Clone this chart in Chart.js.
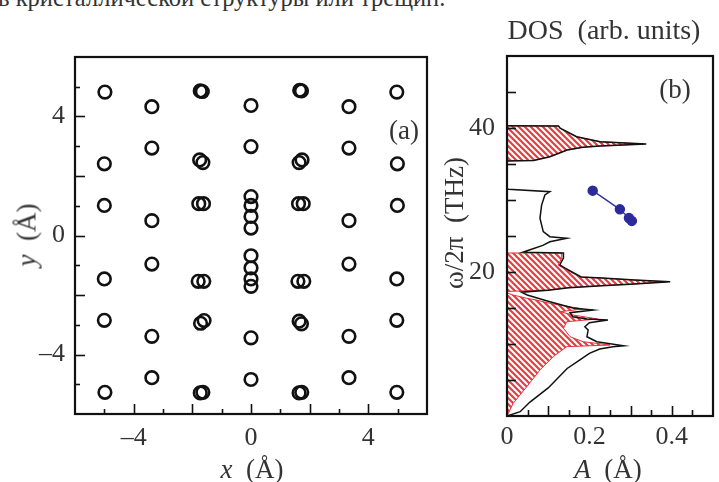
<!DOCTYPE html>
<html><head><meta charset="utf-8">
<script src="https://cdn.jsdelivr.net/npm/chart.js@4.4.1/dist/chart.umd.min.js"></script>
<style>
html,body{margin:0;padding:0;background:#fff;width:719px;height:482px;overflow:hidden;position:relative;font-family:"Liberation Serif",serif;color:#333;}
canvas{position:absolute;}
#ca{left:0;top:0;}
#cb{left:440px;top:0;}
.t{position:absolute;white-space:nowrap;font-size:27px;line-height:1;}
.c{transform:translate(-50%,-50%);}
.r{transform:translate(-50%,-50%) rotate(-90deg);}
</style></head><body>
<div class="t" style="left:-2px;top:-14px;font-size:24.5px;line-height:24px;">в кристаллической структуры или трещин.</div>
<canvas id="ca" width="440" height="482" style="width:440px;height:482px"></canvas>
<canvas id="cb" width="279" height="482" style="width:279px;height:482px"></canvas>
<div class="t c" style="left:604px;top:30px;font-size:28px;">DOS&nbsp; (arb. units)</div>
<div class="t c" style="left:252px;top:469px;"><i>x</i>&nbsp; (Å)</div>
<div class="t r" style="left:27px;top:235px;"><i>y</i>&nbsp; (Å)</div>
<div class="t c" style="left:608px;top:469px;"><i>A</i>&nbsp; (Å)</div>
<div class="t r" style="left:454px;top:223px;">ω/2π&nbsp; (THz)</div>
<div class="t c" style="left:404px;top:130px;">(a)</div>
<div class="t c" style="left:675px;top:89px;">(b)</div>
<script>
// ---------- panel (a): atom positions ----------
const atomX = [-4.98,-1.73,-1.66,1.66,1.72,4.97,
  -3.38,0,3.34,
  -3.38,0,3.34,
  -5.0,-1.75,-1.64,1.64,1.74,4.99,
  -5.0,-1.78,-1.62,1.62,1.78,4.99,
  0,0,0,0,
  -3.38,3.34,
  0,0,0,0,
  -3.38,3.34,
  -5.0,-1.8,-1.61,1.6,1.8,4.97,
  -5.0,-1.72,-1.6,1.64,1.72,4.97,
  -3.38,0,3.34,
  -3.38,0,3.34,
  -4.98,-1.73,-1.64,1.64,1.73,4.97];
const atomY = [4.82,4.86,4.84,4.88,4.86,4.82,
  4.33,4.37,4.33,
  2.94,2.99,2.94,
  2.41,2.54,2.45,2.45,2.54,2.41,
  1.01,1.07,1.07,1.07,1.07,1.01,
  1.31,1.01,0.64,0.25,
  0.5,0.5,
  -0.68,-1.09,-1.46,-1.71,
  -0.96,-0.96,
  -1.46,-1.54,-1.54,-1.54,-1.54,-1.46,
  -2.85,-2.95,-2.86,-2.88,-2.97,-2.85,
  -3.39,-3.44,-3.39,
  -4.78,-4.84,-4.78,
  -5.27,-5.29,-5.27,-5.29,-5.27,-5.27];
const xTicksA = [-4, 0, 4];
const yTicksA = [-4, 0, 4];

// ---------- panel (b): DOS and amplitudes ----------
const totalDos  = [0,0.032,0.055,0.1,0.146,0.177,0.2,0.225,0.257,0.283,0.218,0.194,0.197,0.189,0.2,0.245,0.194,0.16,0.153,0.209,0.16,0.104,0.049,0.035,
  0.1,0.15,0.23,0.31,0.396,0.31,0.23,0.18,0.14,0.128,0.137,0.137,
  0.039,0.056,0.087,0.104,0.145,0.104,0.088,0.08,0.084,0.092,0.104,0.003,0,
  0,0.065,0.104,0.146,0.184,0.226,0.338,0.226,0.169,0.129,0.125,0];
const totalFreq = [0,0.6,1.9,3.9,6.6,7.8,8.7,9.3,9.63,9.75,10.32,11.01,11.94,12.4,12.96,13.33,13.47,13.79,14.35,14.72,15.0,15.88,16.8,17.2,
  17.45,17.82,18.1,18.33,18.65,18.89,19.17,19.31,20.56,20.97,21.94,22.64,
  22.75,23.1,23.7,24.2,24.68,24.9,25.6,27.46,29.3,30.7,31.15,31.5,31.6,
  35.4,35.5,36.0,36.94,37.32,37.5,37.78,38.1,38.79,39.96,40.28,40.3];

const redLowDos  = [0,0.015,0.048,0.08,0.112,0.145,0.25,0.185,0.153,0.137,0.145,0.22,0.16,0.129,0.184,0.104,0.072,0.048,0.015,0];
const redLowFreq = [0,1.76,4.07,6.39,8.24,9.63,9.86,10.32,11.01,12.18,13.1,13.47,14.03,14.49,14.86,15.65,16.1,16.35,16.8,17.1];
const redMidDos  = [0,0.1,0.146,0.226,0.306,0.385,0.306,0.226,0.177,0.136,0.124,0.133,0.133,0];
const redMidFreq = [17.3,17.5,17.82,18.1,18.33,18.65,18.89,19.17,19.31,20.56,20.97,21.94,22.64,22.64];
const redTopDos  = [0,0.063,0.104,0.146,0.184,0.226,0.33,0.226,0.169,0.129,0.125,0];
const redTopFreq = [35.45,35.5,36.0,36.94,37.32,37.5,37.78,38.1,38.79,39.96,40.28,40.3];

const ampA    = [0.208,0.274,0.296,0.303];
const ampFreq = [31.3,28.7,27.5,27.1];

const xTicksB = [0, 0.2, 0.4];
const yTicksB = [20, 40];

// ---------- helpers ----------
const zip = (xs, ys) => xs.map((x, i) => ({x, y: ys[i]}));
const fmtA = v => (v < 0 ? '\u2013' + Math.abs(v) : String(v));
const fmtB = v => (v === 0 ? '0' : v.toFixed(1));

Chart.defaults.font.family = '"Liberation Serif", serif';
Chart.defaults.color = '#333';
Chart.defaults.animation = false;

const frameTicks = {
  id: 'frameTicks',
  afterDatasetsDraw(chart, args, opts) {
    const ctx = chart.ctx, a = chart.chartArea;
    ctx.save();
    ctx.strokeStyle = '#111';
    ctx.lineWidth = 1.6;
    for (const spec of opts.axes) {
      const s = chart.scales[spec.id];
      const n = Math.round((spec.to - spec.from) / spec.step);
      for (let k = 0; k <= n; k++) {
        const v = spec.from + k * spec.step;
        const r = v / spec.major;
        const major = Math.abs(r - Math.round(r)) < 1e-6;
        const len = major ? spec.majorLen : spec.minorLen;
        const p = Math.round(s.getPixelForValue(v)) + 0.5;
        ctx.beginPath();
        if (s.isHorizontal()) { ctx.moveTo(p, a.bottom); ctx.lineTo(p, a.bottom - len); }
        else { ctx.moveTo(a.left, p); ctx.lineTo(a.left + len, p); }
        ctx.stroke();
      }
    }
    ctx.lineWidth = 2.2;
    ctx.strokeStyle = '#111';
    ctx.strokeRect(a.left, a.top, a.right - a.left, a.bottom - a.top);
    ctx.restore();
  }
};

const tickFont = {family: '"Liberation Serif", serif', size: 26};
const noGrid = {display: false, drawTicks: false};

// ---------- chart (a) ----------
new Chart(document.getElementById('ca'), {
  type: 'scatter',
  data: { datasets: [{
    data: zip(atomX, atomY),
    pointRadius: 6.3, pointHoverRadius: 6.3,
    pointBorderWidth: 2.6, borderColor: '#111', pointBorderColor: '#111',
    pointBackgroundColor: 'rgba(0,0,0,0)', backgroundColor: 'rgba(0,0,0,0)'
  }]},
  options: {
    responsive: false, events: [],
    layout: {padding: {top: 57, right: 13, left: 0, bottom: 0}},
    plugins: {legend: {display: false}, tooltip: {enabled: false},
      frameTicks: {axes: [
        {id: 'x', from: -5, to: 5, step: 1, major: 2, majorLen: 10, minorLen: 5},
        {id: 'y', from: -5, to: 5, step: 1, major: 2, majorLen: 10, minorLen: 5}
      ]}},
    scales: {
      x: {type: 'linear', min: -6, max: 6,
        grid: noGrid, border: {display: false},
        afterBuildTicks: s => { s.ticks = xTicksA.map(v => ({value: v})); },
        afterFit: s => { s.height = 68; },
        ticks: {callback: v => fmtA(v), padding: 9, font: tickFont, color: '#333', maxRotation: 0, autoSkip: false}},
      y: {type: 'linear', min: -6, max: 6,
        grid: noGrid, border: {display: false},
        afterBuildTicks: s => { s.ticks = yTicksA.map(v => ({value: v})); },
        afterFit: s => { s.width = 75; },
        ticks: {callback: v => fmtA(v), padding: 10, font: tickFont, color: '#333', autoSkip: false}}
    }
  },
  plugins: [frameTicks]
});

// ---------- hatch pattern ----------
function hatch(color) {
  const c = document.createElement('canvas');
  const n = 6; c.width = n; c.height = n;
  const g = c.getContext('2d');
  g.strokeStyle = color; g.lineWidth = 2.2;
  g.beginPath();
  g.moveTo(-1, -1); g.lineTo(n + 1, n + 1);
  g.moveTo(-1, n - 1); g.lineTo(1, n + 1);
  g.moveTo(n - 1, -1); g.lineTo(n + 1, 1);
  g.stroke();
  return g.createPattern(c, 'repeat');
}
const redHatch = hatch('#ec3a44');
const redRegion = (xs, ys) => ({
  data: zip(xs, ys), showLine: true, fill: 'shape', tension: 0,
  backgroundColor: redHatch, borderColor: '#e8303c', borderWidth: 1,
  pointRadius: 0, pointHoverRadius: 0
});

// ---------- chart (b) ----------
new Chart(document.getElementById('cb'), {
  type: 'scatter',
  data: { datasets: [
    {data: zip(ampA, ampFreq), showLine: true, borderColor: '#2f2f9c', borderWidth: 1.3,
      pointRadius: 4.6, pointHoverRadius: 4.6, pointBackgroundColor: '#2a2a9a', pointBorderColor: '#2a2a9a', fill: false},
    {data: zip(totalDos, totalFreq), showLine: true, borderColor: '#111', borderWidth: 1.5,
      pointRadius: 0, pointHoverRadius: 0, fill: false, tension: 0},
    redRegion(redTopDos, redTopFreq),
    redRegion(redMidDos, redMidFreq),
    redRegion(redLowDos, redLowFreq)
  ]},
  options: {
    responsive: false, events: [],
    layout: {padding: {top: 56, right: 6, left: 0, bottom: 0}},
    plugins: {legend: {display: false}, tooltip: {enabled: false},
      frameTicks: {axes: [
        {id: 'x', from: 0.05, to: 0.45, step: 0.05, major: 0.1, majorLen: 10, minorLen: 6},
        {id: 'y', from: 5, to: 45, step: 5, major: 10, majorLen: 9, minorLen: 9}
      ]}},
    scales: {
      x: {type: 'linear', min: 0, max: 0.5,
        grid: noGrid, border: {display: false},
        afterBuildTicks: s => { s.ticks = xTicksB.map(v => ({value: v})); },
        afterFit: s => { s.height = 66; },
        ticks: {callback: v => fmtB(v), padding: 6, font: tickFont, color: '#333', maxRotation: 0, autoSkip: false}},
      y: {type: 'linear', min: 0, max: 50,
        grid: noGrid, border: {display: false},
        afterBuildTicks: s => { s.ticks = yTicksB.map(v => ({value: v})); },
        afterFit: s => { s.width = 67; },
        ticks: {callback: v => String(v), padding: 12, font: tickFont, color: '#333', autoSkip: false}}
    }
  },
  plugins: [frameTicks]
});
</script>
</body></html>
